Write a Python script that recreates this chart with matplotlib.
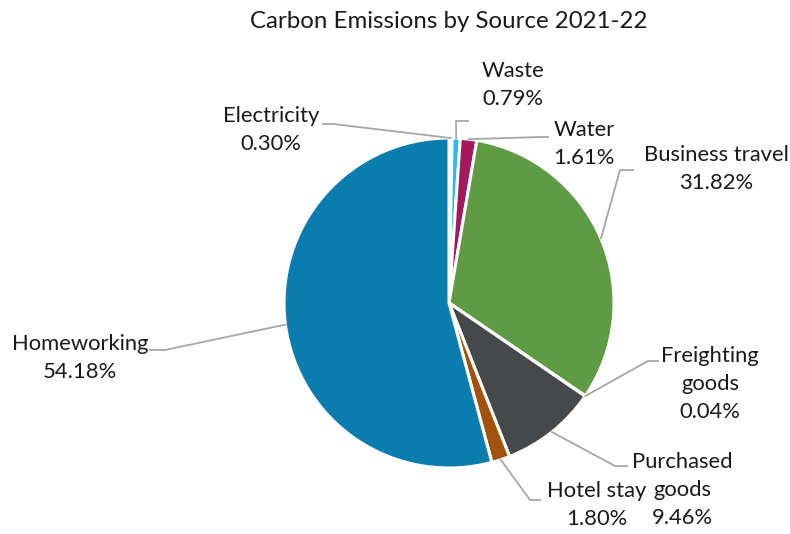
import matplotlib.pyplot as plt
import numpy as np

# data
names = ["Electricity", "Waste", "Water", "Business travel", "Freighting\ngoods",
         "Purchased\ngoods", "Hotel stay", "Homeworking"]
shares = [0.30, 0.79, 1.61, 31.82, 0.04, 9.46, 1.80, 54.18]
colors = ["#C9C9C9", "#2DB9EC", "#A4185C", "#5E9B43", "#0F6E9A",
          "#47484A", "#A2520B", "#0B7CAE"]

# label layout in pixels: text centre, elbow, end of leader
text_px = [(271, 130), (513, 85), (584, 144), (716, 169), (710, 384),
           (682, 490), (597, 505), (80, 358)]
elbow_px = [(333, 124), (456, 121), (540, 137), (620, 170), (648, 361),
            (615, 466), (530, 500), (165, 350)]
end_px = [(323, 124), (468, 121), (548, 137), (633, 170), (658, 361),
          (627, 466), (540, 500), (150, 350)]
line_gap = 28  # px between label lines

W, H = 790, 534
cx, cy, R = 449, 303, 165

plt.rcParams['font.family'] = ['Lato', 'DejaVu Sans']
fig = plt.figure(figsize=(W / 100, H / 100), dpi=100)
ax = fig.add_axes([(cx - R) / W, (H - cy - R) / H, 2 * R / W, 2 * R / H])

wedges, _ = ax.pie(shares, colors=colors, startangle=90, counterclock=False,
                   radius=1, wedgeprops=dict(edgecolor='white', linewidth=2.2))
ax.set_xlim(-1, 1)
ax.set_ylim(-1, 1)
ax.axis('off')


def to_data(p):
    return ((p[0] - cx) / R, (cy - p[1]) / R)


for w, name, val, t, e, f in zip(wedges, names, shares, text_px, elbow_px, end_px):
    mid = np.deg2rad((w.theta1 + w.theta2) / 2)
    a = (np.cos(mid), np.sin(mid))
    e2, f2 = to_data(e), to_data(f)
    ax.plot([a[0], e2[0], f2[0]], [a[1], e2[1], f2[1]], color='#A6A6A6',
            lw=1.3, clip_on=False, zorder=1)
    # one text per line so the blocks stay tight
    lines = f"{name}\n{val:.2f}%".split("\n")
    n = len(lines)
    for i, s in enumerate(lines):
        py = t[1] + (i - (n - 1) / 2) * line_gap
        tx, ty = to_data((t[0], py))
        ax.text(tx, ty, s, ha='center', va='center',
                fontsize=15.8, color='#1a1a1a', clip_on=False)

fig.text(cx / W, 1 - 22 / H, "Carbon Emissions by Source 2021-22",
         ha='center', va='center', fontsize=17.3, color='#1a1a1a')

fig.savefig("out.png", dpi=100)
